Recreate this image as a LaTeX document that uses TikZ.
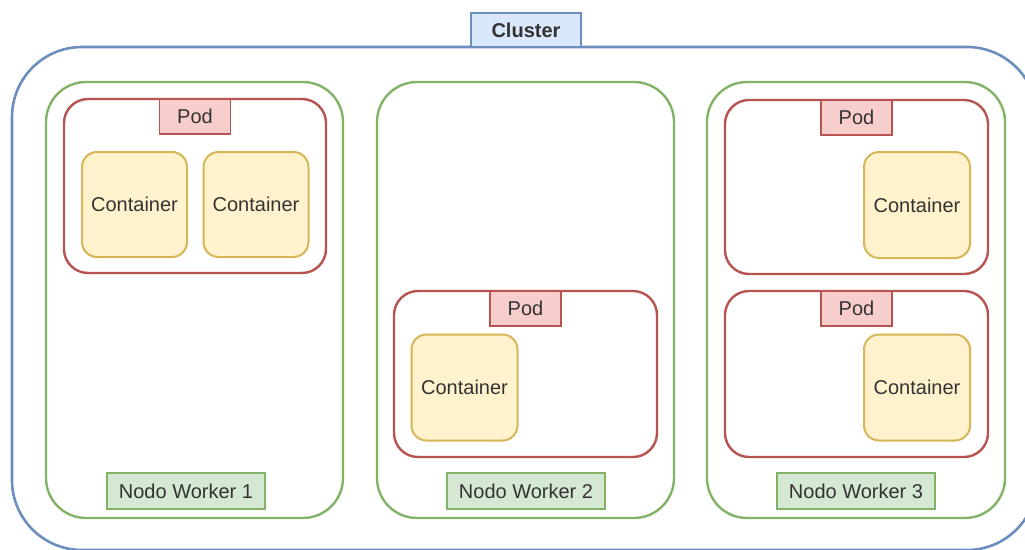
\documentclass[tikz,border=0pt]{standalone}
\usepackage{fontspec}
\setmainfont{Liberation Sans}
\definecolor{bluel}{HTML}{6C8EBF}
\definecolor{bluef}{HTML}{DAE8FC}
\definecolor{greenl}{HTML}{82B366}
\definecolor{greenf}{HTML}{D5E8D4}
\definecolor{redl}{HTML}{B85450}
\definecolor{redf}{HTML}{F8CECC}
\definecolor{yell}{HTML}{D6B656}
\definecolor{yelf}{HTML}{FFF2CC}
\definecolor{txt}{HTML}{333333}
\tikzset{
  box/.style={rectangle, inner sep=0pt, outer sep=0pt},
  clusterbox/.style={box, draw=bluel, line width=2.6pt, rounded corners=70pt},
  workerbox/.style={box, draw=greenl, line width=2.4pt, rounded corners=40pt},
  podbox/.style={box, draw=redl, line width=2.4pt, rounded corners=24pt},
  contbox/.style={box, draw=yell, fill=yelf, line width=2pt, rounded corners=15pt,
    text=txt, font=\fontsize{20}{24}\selectfont},
  tag/.style={box, line width=1.2pt, text=txt, font=\fontsize{20}{24}\selectfont},
  clustertag/.style={tag, draw=bluel, fill=bluef, font=\fontsize{20}{24}\selectfont\bfseries},
  workertag/.style={tag, draw=greenl, fill=greenf},
  podtag/.style={tag, draw=redl, fill=redf},
}
\begin{document}
\begin{tikzpicture}[x=1pt,y=-1pt]
\useasboundingbox (0,0) rectangle (1025,549);
\clip (0,0) rectangle (1025,549);
\fill[white] (0,0) rectangle (1025,549);
% cluster
\node[clusterbox, minimum width=1025pt, minimum height=503pt] (cluster) at (524.5,298.5) {};
\node[clustertag, minimum width=110pt, minimum height=34pt] (clustertag) at (526,30) {Cluster};
% workers
\node[workerbox, minimum width=297pt, minimum height=436pt] (w1) at (194.5,300) {};
\node[workerbox, minimum width=297pt, minimum height=436pt] (w2) at (525.5,300) {};
\node[workerbox, minimum width=298pt, minimum height=436pt] (w3) at (856,300) {};
\node[workertag, minimum width=158pt, minimum height=36pt] (w1t) at (186,491) {Nodo Worker 1};
\node[workertag, minimum width=158pt, minimum height=36pt] (w2t) at (526,491) {Nodo Worker 2};
\node[workertag, minimum width=158pt, minimum height=36pt] (w3t) at (856,491) {Nodo Worker 3};
% pods
\node[podbox, minimum width=262pt, minimum height=174pt] (p1) at (195,186) {};
\node[podbox, minimum width=263pt, minimum height=166pt] (p2) at (525.5,374) {};
\node[podbox, minimum width=263pt, minimum height=174pt] (p3) at (856.5,187) {};
\node[podbox, minimum width=263pt, minimum height=166pt] (p4) at (856.5,374) {};
\node[podtag, minimum width=71pt, minimum height=35pt, anchor=north] (p1t) at (p1.north) {Pod};
\node[podtag, minimum width=71pt, minimum height=35pt, anchor=north] (p2t) at (p2.north) {Pod};
\node[podtag, minimum width=71pt, minimum height=35pt, anchor=north] (p3t) at (p3.north) {Pod};
\node[podtag, minimum width=71pt, minimum height=35pt, anchor=north] (p4t) at (p4.north) {Pod};
% containers
\node[contbox, minimum width=105pt, minimum height=105pt] (c1) at (134.5,204.5) {Container};
\node[contbox, minimum width=105pt, minimum height=105pt] (c2) at (256,204.5) {Container};
\node[contbox, minimum width=106pt, minimum height=106pt] (c3) at (464.5,387.5) {Container};
\node[contbox, minimum width=106pt, minimum height=106pt] (c4) at (917,205) {Container};
\node[contbox, minimum width=106pt, minimum height=106pt] (c5) at (917,387.5) {Container};
\end{tikzpicture}
\end{document}
